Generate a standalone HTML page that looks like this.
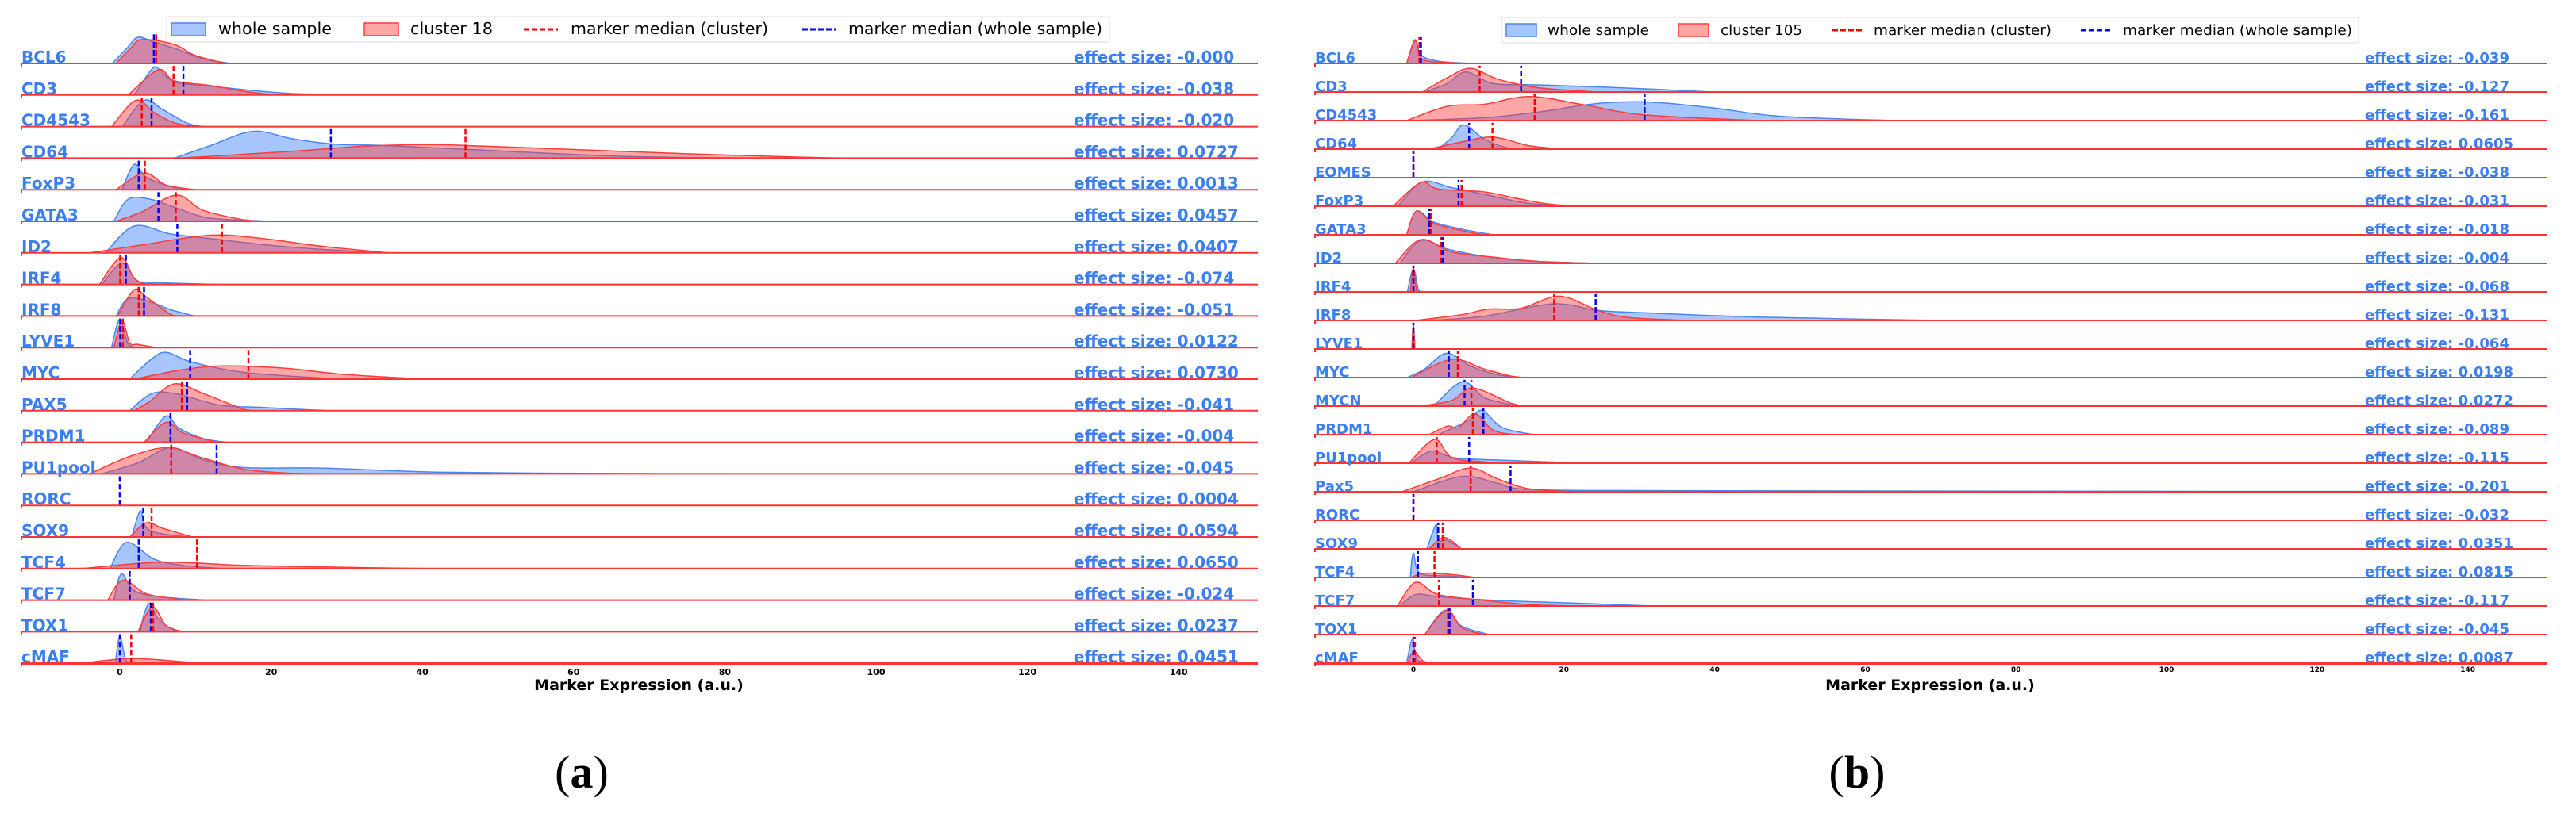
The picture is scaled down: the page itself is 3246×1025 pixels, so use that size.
<!DOCTYPE html>
<html><head><meta charset="utf-8"><style>
html,body{margin:0;padding:0;background:#fff;}
svg{display:block;}
</style></head><body>
<svg id="fig" width="3246" height="1025" viewBox="0 0 3246 1025" xmlns="http://www.w3.org/2000/svg"></svg>
<script>
// ---------- Panel (a) data ----------
const L_markers=["BCL6","CD3","CD4543","CD64","FoxP3","GATA3","ID2","IRF4","IRF8","LYVE1","MYC","PAX5","PRDM1","PU1pool","RORC","SOX9","TCF4","TCF7","TOX1","cMAF"];
const L_effect=["-0.000","-0.038","-0.020","0.0727","0.0013","0.0457","0.0407","-0.074","-0.051","0.0122","0.0730","-0.041","-0.004","-0.045","0.0004","0.0594","0.0650","-0.024","0.0237","0.0451"];
const L_medBlue=[4.5,8.4,4.2,27.9,2.5,5.1,7.6,0.8,3.2,0.05,9.3,8.9,6.7,12.8,0,3.1,2.5,1.3,4.1,0];
const L_medRed=[4.8,7.1,2.9,45.7,3.3,7.4,13.5,0.05,2.5,0.4,17,8.2,6.7,6.8,0,4.2,10.2,1.3,4.4,1.5];
const L_blue=[
[[-1,0],[1,0.5],[2.4,0.83],[4.5,0.68],[7.8,0.43],[11,0.15],[14.7,0]],
[[1.9,0],[4.3,0.84],[5.3,0.8],[7.2,0.42],[12,0.28],[21.7,0.06],[30.7,0]],
[[0.3,0],[3.2,0.83],[5.6,0.55],[8.8,0.12],[11,0]],
[[7.2,0],[12,0.4],[17.6,0.85],[22.7,0.62],[28,0.45],[35,0.4],[45.7,0.28],[68,0.05],[90,0]],
[[0.3,0],[1.9,0.8],[3.5,0.4],[6.7,0.1],[9.9,0]],
[[-0.8,0],[1.1,0.7],[4,0.7],[7.2,0.45],[12,0.1],[20.6,0]],
[[-1.9,0],[1.9,0.85],[6.7,0.6],[12,0.45],[21.7,0.2],[32.4,0.03],[35,0]],
[[-2.4,0],[0.3,0.67],[2.4,0.1],[5.6,0.05],[13.6,0]],
[[-0.5,0],[1.1,0.55],[4,0.45],[6.7,0.2],[9.9,0]],
[[-1.1,0],[0,0.9],[1.1,0.1],[2.4,0]],
[[1.3,0],[4,0.6],[6.1,0.85],[9.4,0.55],[16.3,0.22],[27,0.03],[30,0]],
[[1.3,0],[4.3,0.55],[7.8,0.52],[13.1,0.18],[19,0.1],[27.5,0]],
[[3.5,0],[6.1,0.83],[7.8,0.45],[11,0.12],[14.2,0]],
[[-2.4,0],[2.4,0.35],[6.7,0.83],[11,0.45],[16.3,0.2],[27,0.18],[43,0.05],[68,0.01],[80,0]],
[[-0.2,0],[0,0.02],[0.2,0]],
[[1.6,0],[2.7,0.83],[3.5,0.3],[5.6,0.1],[9.3,0]],
[[-1.3,0],[0.9,0.83],[4.5,0.3],[8.3,0.1],[13.6,0]],
[[-0.8,0],[0.2,0.83],[1.9,0.3],[5.6,0.1],[11.5,0]],
[[2.7,0],[3.2,0.55],[4,0.9],[5.1,0.4],[7.2,0.05],[8.3,0]],
[[-0.6,0],[0,0.85],[0.8,0.1],[1.9,0]]
];
const L_red=[
[[-0.5,0],[1.5,0.5],[3,0.76],[7.2,0.6],[10,0.25],[14,0]],
[[1.1,0],[5.1,0.8],[7.2,0.45],[12,0.3],[16.3,0.12],[20.6,0]],
[[-1.1,0],[2.1,0.83],[4.5,0.45],[7.2,0.12],[10.4,0]],
[[7.8,0],[21.7,0.2],[32.4,0.38],[40.4,0.43],[48.4,0.38],[68,0.2],[80,0.1],[95,0]],
[[-0.5,0],[3.2,0.53],[6.1,0.15],[9.9,0]],
[[-0.5,0],[2.9,0.3],[7.5,0.83],[11,0.35],[16.3,0.05],[19,0]],
[[-4,0],[2.9,0.25],[12,0.56],[19,0.45],[27,0.2],[35.6,0]],
[[-2.7,0],[0.1,0.85],[1.9,0.2],[3.5,0]],
[[-0.3,0],[1.9,0.83],[3.5,0.6],[6.7,0.05],[7.5,0]],
[[-0.8,0],[0.3,0.85],[1.3,0.15],[2.4,0.1],[4.8,0]],
[[1.9,0],[8.3,0.3],[13.6,0.42],[21.7,0.35],[29.7,0.15],[40.4,0]],
[[1.9,0],[4,0.3],[7.2,0.85],[11,0.55],[16.3,0.05],[17.5,0]],
[[3.2,0],[6.1,0.63],[8.3,0.3],[12,0.05],[13,0]],
[[-4,0],[1.3,0.55],[6.4,0.83],[11,0.5],[16.3,0.15],[21.7,0.03],[27,0]],
[[-0.2,0],[0,0.02],[0.2,0]],
[[1.3,0],[3.5,0.45],[5.6,0.28],[9.6,0]],
[[-5,0],[5.6,0.2],[16.3,0.1],[27,0.05],[40.4,0]],
[[-1.6,0],[0.4,0.63],[3.5,0.2],[7.2,0.05],[8.3,0]],
[[2.4,0],[4.3,0.78],[6.1,0.2],[8.3,0]],
[[-5,0],[1.3,0.15],[8.3,0.05],[11,0]]
];
// ---------- Panel (b) data ----------
const R_markers=["BCL6","CD3","CD4543","CD64","EOMES","FoxP3","GATA3","ID2","IRF4","IRF8","LYVE1","MYC","MYCN","PRDM1","PU1pool","Pax5","RORC","SOX9","TCF4","TCF7","TOX1","cMAF"];
const R_effect=["-0.039","-0.127","-0.161","0.0605","-0.038","-0.031","-0.018","-0.004","-0.068","-0.131","-0.064","0.0198","0.0272","-0.089","-0.115","-0.201","-0.032","0.0351","0.0815","-0.117","-0.045","0.0087"];
const R_medBlue=[1,14.3,30.7,7.4,0,6,2.1,3.9,0,24.2,0,4.7,6.8,9.3,7.4,12.9,0,3.3,0.6,7.9,4.8,0];
const R_medRed=[0.8,8.8,16.1,10.5,0,6.4,2.3,3.7,0,18.7,0,5.9,7.7,7.9,3.1,7.6,0,3.9,2.8,3.4,4.6,0.2];
const R_blue=[
[[-0.9,0],[0.2,0.83],[1,0.3],[3.3,0.08],[7.6,0]],
[[1.5,0],[4.5,0.3],[7,0.7],[10.6,0.3],[16.6,0.25],[27.5,0.15],[39.6,0]],
[[-0.3,0],[9.4,0.1],[16.6,0.3],[24.5,0.6],[31.2,0.65],[39.6,0.45],[48.7,0.15],[63.8,0]],
[[3.3,0],[5.1,0.4],[6.7,0.85],[9.4,0.35],[12.4,0.05],[15,0]],
[[-0.1,0],[0,0.02],[0.1,0]],
[[-2.1,0],[1.2,0.85],[5.1,0.65],[10.6,0.35],[15.4,0.1],[21.5,0.03],[36.6,0]],
[[-0.9,0],[0.4,0.83],[2.7,0.45],[6.4,0.2],[10.6,0]],
[[-1.8,0],[1,0.8],[4.5,0.5],[9.4,0.25],[15.4,0.08],[24.5,0]],
[[-0.8,0],[0,0.8],[0.7,0.05],[1.2,0]],
[[2.1,0],[9.4,0.15],[18.5,0.58],[24.5,0.35],[30.6,0.27],[45.7,0.12],[69.9,0]],
[[-0.2,0],[0,0.85],[0.2,0]],
[[-0.8,0],[1.5,0.3],[4.4,0.85],[7.6,0.4],[11.2,0.1],[14.2,0]],
[[2.7,0],[6.5,0.85],[9.4,0.3],[13,0.05],[14.5,0]],
[[3.3,0],[7.3,0.5],[9.1,0.85],[11.8,0.25],[16,0]],
[[-0.3,0],[2.4,0.42],[5.7,0.18],[12.4,0.1],[23.3,0]],
[[0,0],[6.4,0.54],[11.2,0.3],[15.4,0.08],[33.6,0.04],[80,0.02],[140,0.01]],
[[-0.1,0],[0,0.02],[0.1,0]],
[[1.8,0],[3,0.85],[3.3,0.3],[4.5,0.3],[6.4,0]],
[[-0.4,0],[0,0.85],[0.9,0.15],[5.1,0.05],[7.5,0]],
[[-1.8,0],[0.3,0.4],[3.3,0.33],[10.6,0.2],[21.5,0.1],[31.8,0]],
[[1.5,0],[4.2,0.85],[6.4,0.3],[10,0]],
[[-0.9,0],[-0.1,0.85],[0.6,0.1],[3.3,0.02],[5,0]]
];
const R_red=[
[[-0.9,0],[0.3,0.8],[1.2,0.15],[5,0.03],[7,0]],
[[1.2,0],[4.5,0.5],[7.6,0.83],[11.2,0.45],[16.6,0.15],[24.5,0]],
[[-0.9,0],[4.5,0.5],[9.4,0.57],[15.4,0.84],[22.7,0.55],[30.6,0.2],[45.7,0]],
[[2.1,0],[6.4,0.25],[10.6,0.42],[15.4,0.12],[20,0]],
[[-0.1,0],[0,0.02],[0.1,0]],
[[-2.7,0],[1,0.83],[3.3,0.6],[9.4,0.5],[14.2,0.25],[19,0.05],[27,0]],
[[-0.9,0],[0.4,0.83],[2.7,0.4],[6.4,0.15],[9.4,0]],
[[-2.4,0],[1,0.83],[5.1,0.4],[10.6,0.22],[16.6,0.07],[24.5,0]],
[[-0.4,0],[0,0.85],[0.4,0]],
[[0.3,0],[6.4,0.2],[10,0.4],[14.2,0.42],[19.4,0.85],[24.5,0.35],[28.7,0.1],[36.6,0]],
[[-0.2,0],[0,0.85],[0.2,0]],
[[-0.3,0],[5.1,0.64],[9.4,0.3],[13,0.05],[15,0]],
[[0.9,0],[5.1,0.2],[7.9,0.63],[13,0.1],[15,0]],
[[2.1,0],[4.5,0.3],[6,0.25],[8.2,0.73],[10.6,0.15],[13.5,0]],
[[-0.6,0],[2.8,0.83],[5.1,0.2],[9.4,0.05],[12.4,0]],
[[-1.5,0],[3.3,0.45],[7.6,0.83],[11.2,0.45],[15.4,0.1],[21.5,0]],
[[-0.1,0],[0,0.02],[0.1,0]],
[[2.1,0],[4.1,0.4],[6.4,0]],
[[-0.3,0],[1.5,0.15],[5.1,0.1],[8.2,0]],
[[-2.1,0],[0.3,0.83],[3.3,0.4],[9.4,0.2],[15.4,0.05],[21.5,0]],
[[1.5,0],[4.4,0.85],[6.4,0.25],[9.3,0]],
[[-0.8,0],[0.1,0.4],[1.5,0.05],[4.5,0]]
];
const TICKS=[0,20,40,60,80,100,120,140];

const NS="http://www.w3.org/2000/svg";
const svg=document.getElementById('fig');
function mk(tag,attrs,parent){const e=document.createElementNS(NS,tag);for(const k in attrs)e.setAttribute(k,attrs[k]);(parent||svg).appendChild(e);return e;}

function curvePath(pts,x,yb,hpx){
  const P=pts.map(p=>[x(p[0]),yb-p[1]*hpx]);
  let d="M"+P[0][0].toFixed(1)+","+yb.toFixed(1)+" L"+P[0][0].toFixed(1)+","+P[0][1].toFixed(1);
  for(let i=0;i<P.length-1;i++){
    const p0=P[i-1]||P[i],p1=P[i],p2=P[i+1],p3=P[i+2]||P[i+1];
    let c1x=p1[0]+(p2[0]-p0[0])/6,c1y=Math.min(yb,p1[1]+(p2[1]-p0[1])/6);
    let c2x=p2[0]-(p3[0]-p1[0])/6,c2y=Math.min(yb,p2[1]-(p3[1]-p1[1])/6);
    d+=" C"+c1x.toFixed(1)+","+c1y.toFixed(1)+" "+c2x.toFixed(1)+","+c2y.toFixed(1)+" "+p2[0].toFixed(1)+","+p2[1].toFixed(1);
  }
  d+=" L"+P[P.length-1][0].toFixed(1)+","+yb.toFixed(1)+" Z";
  return d;
}

function panel(cfg){
  const g=mk('g',{});
  
  
  const clipId=cfg.name+'-clip';
  const cp=mk('clipPath',{id:clipId},g);
  mk('rect',{x:cfg.x0,y:0,width:cfg.x1-cfg.x0,height:900},cp);
  const n=cfg.markers.length;
  for(let i=0;i<n;i++){
    const yb=cfg.y(i);
    const rg=mk('g',{'clip-path':'url(#'+clipId+')'},g);
    
    
    const pb=mk('path',{d:curvePath(cfg.blue[i],cfg.x,yb,cfg.sp),fill:'rgba(80,140,255,0.5)',stroke:'#4a86ee','stroke-width':1.5},rg);
    
    
    const pr=mk('path',{d:curvePath(cfg.red[i],cfg.x,yb,cfg.sp),fill:'rgba(255,60,60,0.45)',stroke:'#ff3b3b','stroke-width':1.5},rg);
    
    
    const top=yb-cfg.sp*0.92;
    const mr=mk('line',{x1:cfg.x(cfg.medRed[i]),x2:cfg.x(cfg.medRed[i]),y1:yb,y2:top,stroke:'#ff0000','stroke-width':2.5,'stroke-dasharray':'7,3'},rg);
    
    
    const mb=mk('line',{x1:cfg.x(cfg.medBlue[i]),x2:cfg.x(cfg.medBlue[i]),y1:yb,y2:top,stroke:'#0000ff','stroke-width':2.5,'stroke-dasharray':'7,3'},rg);
    
    
    const bl=mk('line',{x1:cfg.x0,x2:cfg.x1,y1:yb,y2:yb,stroke:'#ff3333','stroke-width':i===n-1?4:2},g);
    
    
    mk('line',{x1:cfg.x0+1,x2:cfg.x0+1,y1:yb,y2:yb+4,stroke:'#ff3333','stroke-width':2},g);
    const lab=mk('text',{x:cfg.x0+1,y:yb-1,'font-family':'DejaVu Sans, Liberation Sans, sans-serif','font-weight':'bold','font-size':cfg.fs,fill:'#3a7ef0'},g);
    lab.textContent=cfg.markers[i];
    
    
    const ef=mk('text',{x:cfg.ex,y:yb-1,'font-family':'DejaVu Sans, Liberation Sans, sans-serif','font-weight':'bold','font-size':cfg.efs,fill:'#3a7ef0'},g);
    ef.textContent='effect size: '+cfg.effect[i];
    
    
  }
  TICKS.forEach(t=>{
    const tx=mk('text',{x:cfg.x(t),y:cfg.tickY,'text-anchor':'middle','font-family':'DejaVu Sans, Liberation Sans, sans-serif','font-weight':'bold','font-size':cfg.tfs,fill:'#000'},g);
    tx.textContent=t;
    
    
  });
  const xl=mk('text',{x:cfg.xlx,y:870,'text-anchor':'middle','font-family':'DejaVu Sans, Liberation Sans, sans-serif','font-weight':'bold','font-size':19,fill:'#000'},g);
  xl.textContent='Marker Expression (a.u.)';
  
  
  const lg=mk('g',{},g);
  
  
  const L=cfg.leg;
  mk('rect',{x:L.x,y:L.y,width:L.w,height:32,rx:3,fill:'rgba(255,255,255,0.9)',stroke:'#dddddd','stroke-width':1},lg);
  const ty=L.y+22;
  const items=[['patch','rgba(80,140,255,0.5)','#4a86ee','whole sample'],['patch','rgba(255,60,60,0.45)','#ff3b3b',cfg.clusterName],['dash','#ff0000','#ff0000','marker median (cluster)'],['dash','#0000ff','#0000ff','marker median (whole sample)']];
  items.forEach((it,k)=>{
    const px=L.px[k];
    if(it[0]==='patch'){mk('rect',{x:px,y:L.y+8,width:L.pw,height:16,fill:it[1],stroke:it[2],'stroke-width':1.5},lg);}
    else{mk('line',{x1:px,x2:px+L.pw,y1:L.y+16,y2:L.y+16,stroke:it[1],'stroke-width':3,'stroke-dasharray':'7,3'},lg);}
    const t=mk('text',{x:L.tx[k],y:ty,'font-family':'DejaVu Sans, Liberation Sans, sans-serif','font-size':L.fs,fill:'#000',textLength:L.tw[k],lengthAdjust:'spacingAndGlyphs'},lg);
    t.textContent=it[3];
    
    
  });
}

panel({name:'panel-a',markers:L_markers,effect:L_effect,medBlue:L_medBlue,medRed:L_medRed,blue:L_blue,red:L_red,
  x:v=>151+v*9.53,y:i=>80+i*39.8,sp:39.8,x0:26,x1:1585,fs:20,efs:20,ex:1353,tickY:851,tfs:11,xlx:805,clusterName:'cluster 18',
  leg:{x:210,y:21,w:1188,fs:20,pw:43,px:[216,459,660,1011],tx:[275,517,719,1069],tw:[143,104,249,320]}});
panel({name:'panel-b',markers:R_markers,effect:R_effect,medBlue:R_medBlue,medRed:R_medRed,blue:R_blue,red:R_red,
  x:v=>1781+v*9.49,y:i=>80+i*36,sp:36,x0:1656,x1:3209,fs:18,efs:18,ex:2980,tickY:847,tfs:9,xlx:2432,clusterName:'cluster 105',
  leg:{x:1892,y:22,w:1080,fs:18,pw:38,px:[1898,2115,2309,2622],tx:[1950,2168,2361,2675],tw:[128,103,224,289]}});

const ca=mk('text',{x:733,y:993,'text-anchor':'middle','font-family':'Liberation Serif, serif','font-size':58,fill:'#000'});
ca.innerHTML='(<tspan font-weight="bold">a</tspan>)';


const cb=mk('text',{x:2340,y:993,'text-anchor':'middle','font-family':'Liberation Serif, serif','font-size':58,fill:'#000'});
cb.innerHTML='(<tspan font-weight="bold">b</tspan>)';


</script>
</body></html>
